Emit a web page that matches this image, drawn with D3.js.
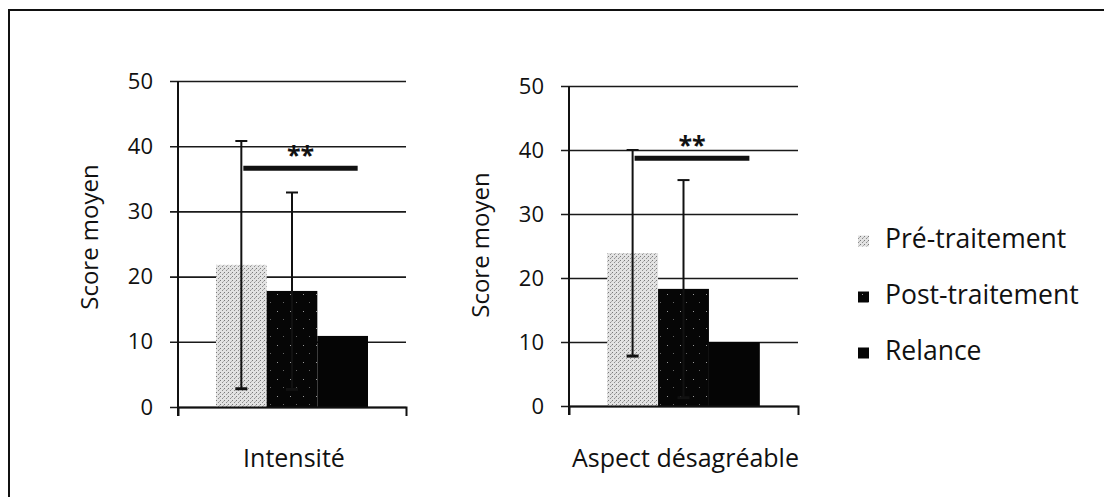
<!DOCTYPE html>
<html>
<head>
<meta charset="utf-8">
<script src="https://cdn.jsdelivr.net/npm/d3@7"></script>
<style>
  body { margin: 0; background: #fff; }
  text { font-family: "Open Sans", "DejaVu Sans", sans-serif; fill: #111; }
</style>
</head>
<body>
<div class="chart"></div>
<script>
var svgWidth = 1104;
var svgHeight = 497;

// data
var categories = ["Intensité", "Aspect désagréable"];
var series = ["Pré-traitement", "Post-traitement", "Relance"];
var preMeans = [21.8, 23.9];
var postMeans = [17.8, 18.3];
var relanceMeans = [10.9, 10.0];
var preSd = [19.0, 16.1];
var postSd = [15.1, 17.0];
var sigLevel = [36.6, 38.7];
var sigLabel = ["**", "**"];
var yTicks = [0, 10, 20, 30, 40, 50];

var panels = [
  { left: 178, right: 406, top: 81, bottom: 407, titleY: 237 },
  { left: 569, right: 798, top: 86, bottom: 406, titleY: 245 }
];

var svg = d3.select(".chart")
  .append("svg")
  .attr("width", svgWidth)
  .attr("height", svgHeight);

// bar fills (scanned texture)
var defs = svg.append("defs");
var pre = defs.append("pattern")
  .attr("id", "prePat")
  .attr("patternUnits", "userSpaceOnUse")
  .attr("width", 4).attr("height", 4);
pre.append("rect").attr("width", 4).attr("height", 4).attr("fill", "#e2e2e2");
pre.append("rect").attr("x", 0).attr("y", 0).attr("width", 1).attr("height", 1).attr("fill", "#7a7a7a");
pre.append("rect").attr("x", 2).attr("y", 2).attr("width", 1).attr("height", 1).attr("fill", "#8e8e8e");
pre.append("rect").attr("x", 3).attr("y", 1).attr("width", 1).attr("height", 1).attr("fill", "#b0b0b0");

var post = defs.append("pattern")
  .attr("id", "postPat")
  .attr("patternUnits", "userSpaceOnUse")
  .attr("width", 13).attr("height", 17);
post.append("rect").attr("width", 13).attr("height", 17).attr("fill", "#060606");
post.append("rect").attr("x", 4).attr("y", 5).attr("width", 1).attr("height", 1).attr("fill", "#9a9a9a");
post.append("rect").attr("x", 10).attr("y", 13).attr("width", 1).attr("height", 1).attr("fill", "#666");

var fills = ["url(#prePat)", "url(#postPat)", "#050505"];

// outer frame (only top and left edges visible)
svg.append("path")
  .attr("d", "M9,497 V10 H1104")
  .attr("fill", "none")
  .attr("stroke", "#111")
  .attr("stroke-width", 2);

categories.forEach(function(cat, i) {
  var p = panels[i];
  var g = svg.append("g");

  var y = d3.scaleLinear().domain([0, 50]).range([p.bottom, p.top]);
  var x0 = d3.scaleBand().domain([cat]).range([p.left, p.right]).paddingOuter(0.25);
  var x1 = d3.scaleBand().domain(series).range([x0(cat), x0(cat) + x0.bandwidth()]);

  // gridlines + y ticks
  g.append("g")
    .attr("transform", "translate(" + p.left + ",0)")
    .call(d3.axisLeft(y).tickValues(yTicks).tickSize(-(p.right - p.left)).tickSizeOuter(0).tickPadding(25))
    .call(function(a) {
      a.select(".domain").remove();
      a.selectAll(".tick line")
        .attr("x1", -8)
        .attr("stroke", "#1a1a1a")
        .attr("stroke-width", 1.6);
      a.selectAll(".tick text")
        .attr("font-size", 22)
        .attr("font-family", "Open Sans")
        .attr("fill", "#111");
    });

  var vals = [preMeans[i], postMeans[i], relanceMeans[i]];
  var sds = [preSd[i], postSd[i], null];

  g.selectAll("rect.bar")
    .data(vals)
    .enter().append("rect")
      .attr("class", "bar")
      .attr("x", function(d, j) { return x1(series[j]); })
      .attr("width", x1.bandwidth())
      .attr("y", function(d) { return y(d); })
      .attr("height", function(d) { return y(0) - y(d); })
      .attr("fill", function(d, j) { return fills[j]; });

  // x axis line and end ticks
  g.append("g")
    .attr("transform", "translate(0," + p.bottom + ")")
    .call(d3.axisBottom(x0).tickValues([]).tickSizeOuter(9))
    .call(function(a) {
      a.select(".domain").attr("stroke", "#111").attr("stroke-width", 2);
    });

  // y axis line
  g.append("line")
    .attr("x1", p.left).attr("x2", p.left)
    .attr("y1", y(50)).attr("y2", y(0) + 9)
    .attr("stroke", "#111")
    .attr("stroke-width", 2);

  // error bars
  var cap = 6;
  vals.forEach(function(m, j) {
    if (sds[j] == null) return;
    var cx = x1(series[j]) + x1.bandwidth() / 2;
    var hi = y(m + sds[j]);
    var lo = y(m - sds[j]);
    var eb = g.append("g").attr("stroke", "#111").attr("stroke-width", 2);
    eb.append("line").attr("x1", cx).attr("x2", cx).attr("y1", hi).attr("y2", lo);
    eb.append("line").attr("x1", cx - cap).attr("x2", cx + cap).attr("y1", hi).attr("y2", hi);
    eb.append("line").attr("x1", cx - cap).attr("x2", cx + cap).attr("y1", lo).attr("y2", lo)
      .attr("stroke-width", 3);
  });

  // significance bar
  var sx0 = x1(series[0]) + x1.bandwidth() / 2 + 2;
  var sx1 = x1(series[2]) + x1.bandwidth() / 2 + 15;
  g.append("line")
    .attr("x1", sx0).attr("x2", sx1)
    .attr("y1", y(sigLevel[i])).attr("y2", y(sigLevel[i]))
    .attr("stroke", "#111")
    .attr("stroke-width", 5);
  g.append("text")
    .attr("x", (sx0 + sx1) / 2)
    .attr("y", y(sigLevel[i]) - 4)
    .attr("text-anchor", "middle")
    .attr("font-size", 25)
    .attr("font-weight", "bold")
    .text(sigLabel[i]);

  // axis titles
  g.append("text")
    .attr("transform", "translate(" + (p.left - 86) + "," + p.titleY + ") rotate(-90)")
    .attr("text-anchor", "middle")
    .attr("dominant-baseline", "middle")
    .attr("font-size", 24)
    .text("Score moyen");

  g.append("text")
    .attr("x", (p.left + p.right) / 2 + 2)
    .attr("y", 467)
    .attr("text-anchor", "middle")
    .attr("font-size", 25)
    .text(cat);
});

// legend
var legend = svg.append("g");
var legendY = [241, 297, 353];
series.forEach(function(s, j) {
  legend.append("rect")
    .attr("x", 858)
    .attr("y", legendY[j] - 5.5)
    .attr("width", 11)
    .attr("height", 11)
    .attr("fill", fills[j]);
  legend.append("text")
    .attr("x", 885)
    .attr("y", legendY[j])
    .attr("dominant-baseline", "middle")
    .attr("font-size", 26.5)
    .text(s);
});
</script>
</body>
</html>
